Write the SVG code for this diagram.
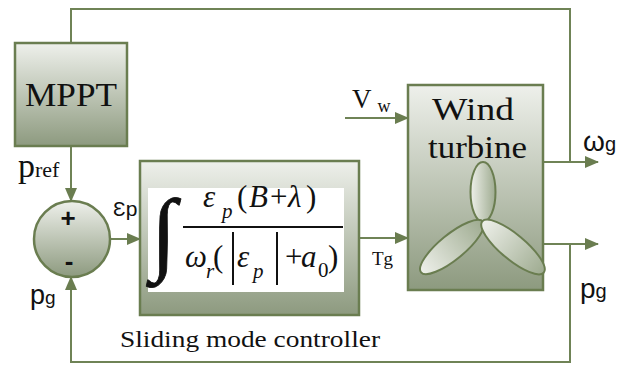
<svg xmlns="http://www.w3.org/2000/svg" width="635" height="365" viewBox="0 0 635 365">
<defs>
<linearGradient id="gBox" x1="0" y1="0" x2="0" y2="1">
<stop offset="0" stop-color="#eef0eb"/>
<stop offset="1" stop-color="#8d9a7f"/>
</linearGradient>
<linearGradient id="gBlade" x1="0" y1="0" x2="1" y2="0">
<stop offset="0" stop-color="#eef0ea"/>
<stop offset="1" stop-color="#9eab90"/>
</linearGradient>
<marker id="arr" markerUnits="userSpaceOnUse" markerWidth="14" markerHeight="12" refX="13" refY="6" orient="auto">
<path d="M0,0 L14,6 L0,12 Z" fill="#6a7d50"/>
</marker>
</defs>
<style>
.box{fill:url(#gBox);stroke:#6a7d50;stroke-width:2.5}
.ln{fill:none;stroke:#6f8356;stroke-width:2}
.serif{font-family:"Liberation Serif","Times New Roman",serif;fill:#111}
.sans{font-family:"Liberation Sans",Arial,sans-serif;fill:#111}
.it{font-style:italic}
.m{font-size:31px}
.s{font-size:21px}
.blade{fill:url(#gBlade);stroke:#6a7d50;stroke-width:2}
.bar{stroke:#111;stroke-width:2}
</style>
<rect width="635" height="365" fill="#fff"/>

<g id="connectors">
<polyline class="ln" points="71,43 71,9 570,9 570,162"/>
<line class="ln" x1="71" y1="146" x2="71" y2="201" marker-end="url(#arr)"/>
<line class="ln" x1="111" y1="239" x2="140" y2="239" marker-end="url(#arr)"/>
<line class="ln" x1="359" y1="238" x2="408" y2="238" marker-end="url(#arr)"/>
<line class="ln" x1="345" y1="118" x2="408" y2="118" marker-end="url(#arr)"/>
<line class="ln" x1="543" y1="162" x2="598" y2="162" marker-end="url(#arr)"/>
<line class="ln" x1="543" y1="244" x2="598" y2="244" marker-end="url(#arr)"/>
<polyline class="ln" points="570,244 570,362 71,362 71,277" marker-end="url(#arr)"/>
</g>

<g id="mppt">
<rect class="box" x="15" y="43" width="112" height="103"/>
<text class="serif" x="25" y="106" font-size="33" textLength="92" lengthAdjust="spacingAndGlyphs">MPPT</text>
</g>

<g id="sum">
<circle cx="72" cy="239" r="38" fill="url(#gBox)" stroke="#6a7d50" stroke-width="2.5"/>
<text class="sans" x="68" y="227" font-size="26" text-anchor="middle" font-weight="bold">+</text>
<text class="sans" x="69" y="270" font-size="26" text-anchor="middle" font-weight="bold">-</text>
</g>

<g id="controller">
<rect class="box" x="140" y="161" width="219" height="154"/>
<rect x="148" y="188" width="196" height="104" fill="#fff"/>
<text class="serif" x="151" y="263" font-size="92" stroke="#111" stroke-width="0.8">∫</text>
<text class="serif it m" x="203" y="207">ε</text>
<text class="serif it s" x="222" y="218">p</text>
<text class="serif m" x="237" y="207">(</text>
<text class="serif it m" x="249" y="207">B</text>
<text class="serif m" x="270" y="207">+</text>
<text class="serif it m" x="288" y="207">λ</text>
<text class="serif m" x="306" y="207">)</text>
<line x1="183" y1="227" x2="343" y2="227" stroke="#111" stroke-width="2"/>
<text class="serif it m" x="185" y="267">ω</text>
<text class="serif it s" x="206" y="278">r</text>
<text class="serif m" x="213" y="267">(</text>
<line class="bar" x1="233" y1="232" x2="233" y2="285"/>
<text class="serif it m" x="237" y="267">ε</text>
<text class="serif it s" x="253" y="278">p</text>
<line class="bar" x1="277" y1="232" x2="277" y2="285"/>
<text class="serif m" x="285" y="267">+</text>
<text class="serif it m" x="301" y="267">a</text>
<text class="serif s" x="318" y="277">0</text>
<text class="serif m" x="328" y="267">)</text>
</g>

<g id="wind-turbine">
<rect class="box" x="408" y="85" width="135" height="205"/>
<text class="serif" x="432" y="120" font-size="31" textLength="82" lengthAdjust="spacingAndGlyphs">Wind</text>
<text class="serif" x="428" y="158" font-size="31" textLength="99" lengthAdjust="spacingAndGlyphs">turbine</text>
<ellipse class="blade" cx="483" cy="192" rx="12.5" ry="30"/>
<ellipse class="blade" cx="452" cy="247" rx="40" ry="12.5" transform="rotate(-39.3 452 247)"/>
<ellipse class="blade" cx="513" cy="247" rx="40" ry="12.5" transform="rotate(39.8 513 247)"/>
</g>

<g id="labels">
<text class="serif" x="18" y="177" font-size="34">p<tspan font-size="22">ref</tspan></text>
<text class="sans" x="113" y="216" font-size="21">Ɛ<tspan font-size="21">p</tspan></text>
<text class="sans" x="30" y="304" font-size="27">p<tspan font-size="19">g</tspan></text>
<text class="serif" x="372" y="265" font-size="19">Tg</text>
<text class="serif" x="352" y="108" font-size="27">V<tspan font-size="18" dx="6" dy="4">w</tspan></text>
<text class="sans" x="583" y="151" font-size="28">ω<tspan font-size="20">g</tspan></text>
<text class="sans" x="580" y="298" font-size="28">p<tspan font-size="20">g</tspan></text>
<text class="serif" x="120" y="347" font-size="24" textLength="260" lengthAdjust="spacingAndGlyphs">Sliding mode controller</text>
</g>
</svg>
